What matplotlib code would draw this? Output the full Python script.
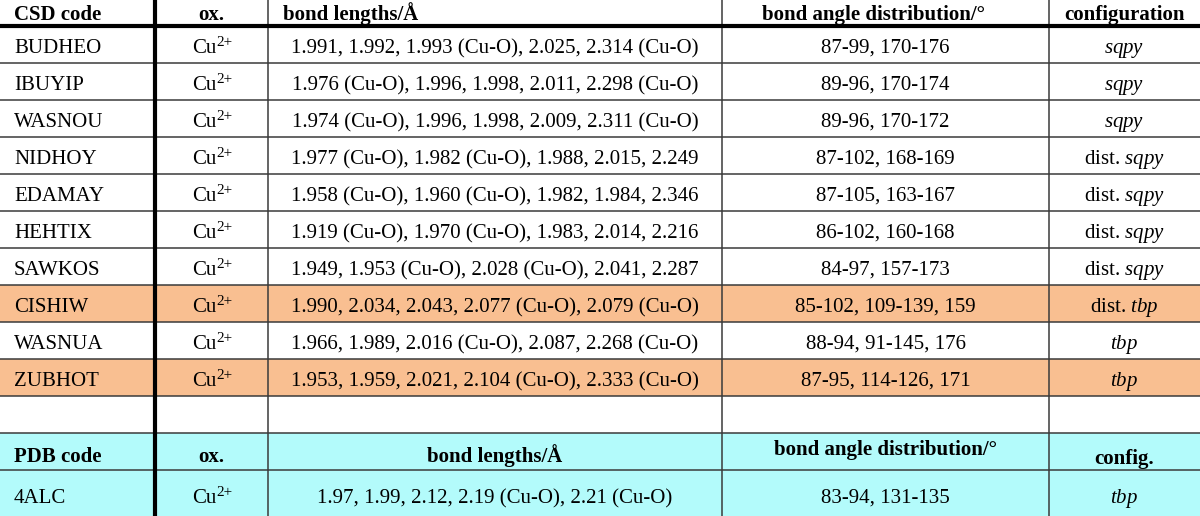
import matplotlib
matplotlib.use("Agg")
from matplotlib import pyplot as plt
from matplotlib.patches import Rectangle

plt.rcParams['font.family'] = ['Liberation Serif', 'DejaVu Serif']
plt.rcParams['mathtext.fontset'] = 'custom'
plt.rcParams['mathtext.rm'] = 'Liberation Serif'
plt.rcParams['mathtext.it'] = 'Liberation Serif:italic'
plt.rcParams['mathtext.bf'] = 'Liberation Serif:bold'

# данные таблицы
csd_codes = ['BUDHEO', 'IBUYIP', 'WASNOU', 'NIDHOY', 'EDAMAY', 'HEHTIX',
             'SAWKOS', 'CISHIW', 'WASNUA', 'ZUBHOT']
oxidation = [('Cu', '2+')] * 10
bond_lengths = [
    '1.991, 1.992, 1.993 (Cu-O), 2.025, 2.314 (Cu-O)',
    '1.976 (Cu-O), 1.996, 1.998, 2.011, 2.298 (Cu-O)',
    '1.974 (Cu-O), 1.996, 1.998, 2.009, 2.311 (Cu-O)',
    '1.977 (Cu-O), 1.982 (Cu-O), 1.988, 2.015, 2.249',
    '1.958 (Cu-O), 1.960 (Cu-O), 1.982, 1.984, 2.346',
    '1.919 (Cu-O), 1.970 (Cu-O), 1.983, 2.014, 2.216',
    '1.949, 1.953 (Cu-O), 2.028 (Cu-O), 2.041, 2.287',
    '1.990, 2.034, 2.043, 2.077 (Cu-O), 2.079 (Cu-O)',
    '1.966, 1.989, 2.016 (Cu-O), 2.087, 2.268 (Cu-O)',
    '1.953, 1.959, 2.021, 2.104 (Cu-O), 2.333 (Cu-O)',
]
bond_angles = ['87-99, 170-176', '89-96, 170-174', '89-96, 170-172',
               '87-102, 168-169', '87-105, 163-167', '86-102, 160-168',
               '84-97, 157-173', '85-102, 109-139, 159', '88-94, 91-145, 176',
               '87-95, 114-126, 171']
configurations = ['$\\mathit{sqpy}$', '$\\mathit{sqpy}$', '$\\mathit{sqpy}$',
                  'dist. $\\mathit{sqpy}$', 'dist. $\\mathit{sqpy}$',
                  'dist. $\\mathit{sqpy}$', 'dist. $\\mathit{sqpy}$',
                  'dist. $\\mathit{tbp}$', '$\\mathit{tbp}$', '$\\mathit{tbp}$']
highlighted = ['CISHIW', 'ZUBHOT']

pdb_codes = ['4ALC']
pdb_oxidation = [('Cu', '2+')]
pdb_bond_lengths = ['1.97, 1.99, 2.12, 2.19 (Cu-O), 2.21 (Cu-O)']
pdb_bond_angles = ['83-94, 131-135']
pdb_configurations = ['$\\mathit{tbp}$']

# раскладка
col_edges = [0, 155, 268, 722, 1049, 1200]
header_h = 26
row_h = 37
fs = 15
orange = '#F9BF91'
cyan = '#B3FBFB'
grid_color = '#3a3a3a'

W, H = 1200, 516
fig = plt.figure(figsize=(W / 100, H / 100), dpi=100)
ax = fig.add_axes([0, 0, 1, 1])
ax.set_xlim(0, W)
ax.set_ylim(H, 0)
ax.axis('off')

cx = [(col_edges[j] + col_edges[j + 1]) / 2 for j in range(5)]


def row_top(i):
    return header_h + i * row_h


def put(x, y, s, ha='center', **kw):
    return ax.text(x, y, s, ha=ha, va='baseline', fontsize=fs, **kw)


def put_ox(x, y, ox):
    base, sup = ox
    t = ax.text(x + 5, y, base, ha='right', va='baseline', fontsize=fs)
    ax.annotate(sup, xy=(1, 0.62), xycoords=t, xytext=(0, 0),
                textcoords='offset points', ha='left', va='baseline', fontsize=11)


# заголовок CSD
hb = 20
put(14, hb, 'CSD code', ha='left', fontweight='bold')
put(cx[1], hb, 'ox.', fontweight='bold')
put(283, hb, 'bond lengths/Å', ha='left', fontweight='bold')
put(cx[3] - 12, hb, 'bond angle distribution/°', fontweight='bold')
put(cx[4], hb, 'configuration', fontweight='bold')

# строки CSD
for i, code in enumerate(csd_codes):
    y0 = row_top(i)
    if code in highlighted:
        ax.add_patch(Rectangle((0, y0), W, row_h, color=orange, zorder=0, lw=0))
    yb = y0 + 27
    put(14, yb, code, ha='left')
    put_ox(cx[1], yb, oxidation[i])
    put(cx[2], yb, bond_lengths[i])
    put(cx[3], yb, bond_angles[i])
    put(cx[4], yb, configurations[i])

n = len(csd_codes)
# пустая строка, потом блок PDB
pdb_top = row_top(n + 1)
ax.add_patch(Rectangle((0, pdb_top), W, H - pdb_top, color=cyan, zorder=0, lw=0))

yb = pdb_top + 29
put(14, yb, 'PDB code', ha='left', fontweight='bold')
put(cx[1], yb, 'ox.', fontweight='bold')
put(cx[2], yb, 'bond lengths/Å', fontweight='bold')
put(cx[3], yb - 7, 'bond angle distribution/°', fontweight='bold')
put(cx[4], yb + 2, 'config.', fontweight='bold')

for i, code in enumerate(pdb_codes):
    y0 = row_top(n + 2 + i)
    yb = y0 + 33
    put(14, yb, code, ha='left')
    put_ox(cx[1], yb, pdb_oxidation[i])
    put(cx[2], yb, pdb_bond_lengths[i])
    put(cx[3], yb, pdb_bond_angles[i])
    put(cx[4], yb, pdb_configurations[i])

# линии сетки
for i in range(1, n + 3):
    ax.plot([0, W], [row_top(i)] * 2, color=grid_color, lw=1.1, zorder=2)
ax.plot([0, W], [header_h] * 2, color='black', lw=3, zorder=3)
for x in col_edges[2:5]:
    ax.plot([x, x], [0, H], color=grid_color, lw=1.1, zorder=2)
ax.plot([col_edges[1]] * 2, [0, H], color='black', lw=3, zorder=3)

fig.savefig('out.png', dpi=100)
